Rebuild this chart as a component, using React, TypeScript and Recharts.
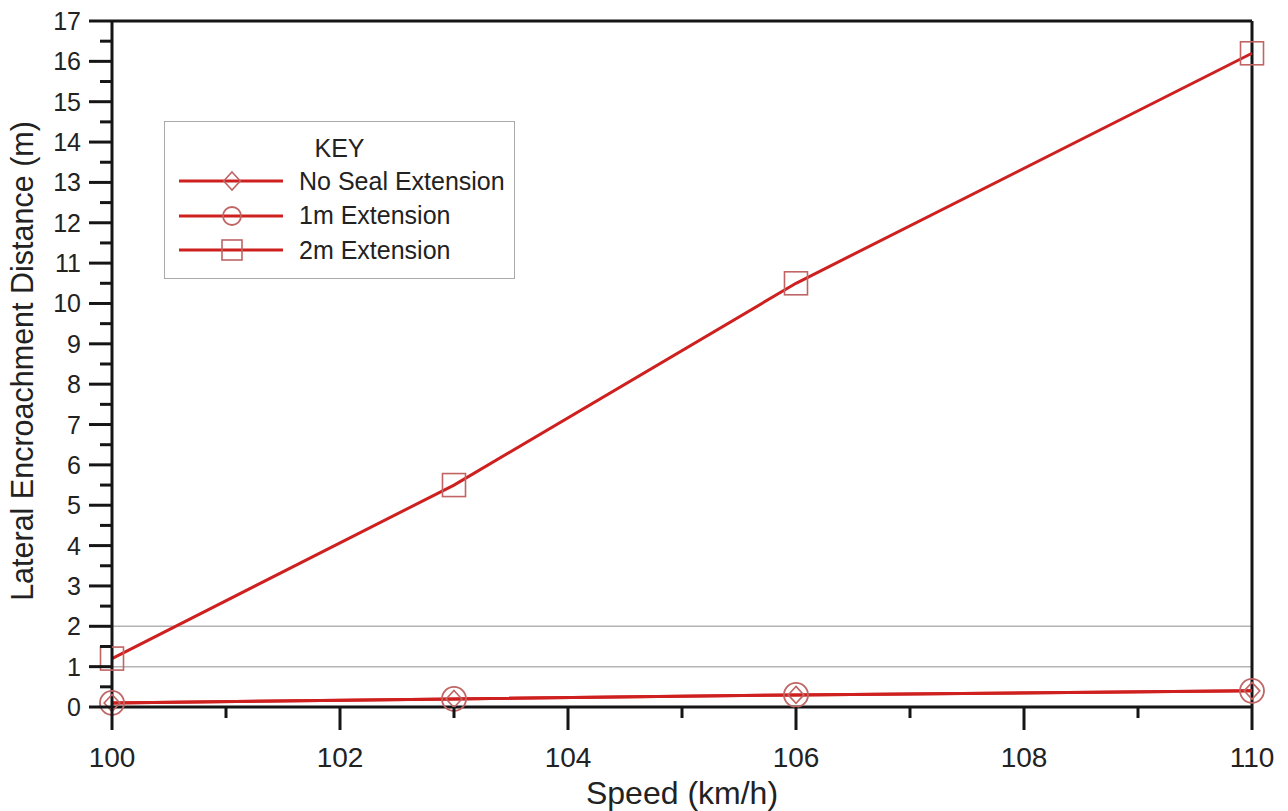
import {
  Legend,
  Line,
  LineChart,
  ReferenceLine,
  XAxis,
  YAxis,
} from "recharts";

const speeds = [100, 103, 106, 110];
const noSeal = [0.1, 0.2, 0.3, 0.4];
const ext1m = [0.1, 0.2, 0.3, 0.4];
const ext2m = [1.2, 5.5, 10.5, 16.2];

const xTicks = [100, 101, 102, 103, 104, 105, 106, 107, 108, 109, 110];
const xLabelled = [100, 102, 104, 106, 108, 110];
const yMajor = [0, 1, 2, 3, 4, 5, 6, 7, 8, 9, 10, 11, 12, 13, 14, 15, 16, 17];
const yTicks = [...yMajor, ...yMajor.slice(0, -1).map((v) => v + 0.5)].sort((a, b) => a - b);
const guideLines = [1, 2];

const seriesNames = ["No Seal Extension", "1m Extension", "2m Extension"];

const data = speeds.map((s, i) => ({
  speed: s,
  noSeal: noSeal[i],
  ext1m: ext1m[i],
  ext2m: ext2m[i],
}));

const FONT = '"Liberation Sans", Arial, sans-serif';
const LINE = "#cf2020";
const MARK = "#c06464";
const AXIS = "#151515";

// s = nominal marker size in px
const markerShape = (kind: string, cx: number, cy: number, s: number, key?: string) => {
  if (kind === "diamond") {
    const h = s / 2;
    const w = h * 0.92;
    return (
      <path key={key} d={`M${cx},${cy - h} L${cx + w},${cy} L${cx},${cy + h} L${cx - w},${cy} Z`}
        fill="none" stroke={MARK} strokeWidth={1.6} />
    );
  }
  if (kind === "circle") {
    return <circle key={key} cx={cx} cy={cy} r={s / 2} fill="none" stroke={MARK} strokeWidth={1.8} />;
  }
  return (
    <rect key={key} x={cx - s / 2} y={cy - s / 2} width={s} height={s} fill="none" stroke={MARK} strokeWidth={1.6} />
  );
};

const plotSize: Record<string, number> = { diamond: 17, circle: 24, square: 23 };
const keySize: Record<string, number> = { diamond: 18, circle: 18, square: 20 };

const dotFor = (kind: string) => (p: any) =>
  markerShape(kind, p.cx, p.cy, plotSize[kind], `${kind}-${p.index}`);

const XTick = (props: any) => {
  const { x, y, payload } = props;
  const major = xLabelled.includes(payload.value);
  return (
    <g>
      <line x1={x} y1={y} x2={x} y2={y + (major ? 23 : 11)} stroke={AXIS} strokeWidth={3} />
      {major && (
        <text x={x} y={y + 60} textAnchor="middle" fontSize={28} fontFamily={FONT} fill="#222">
          {payload.value}
        </text>
      )}
    </g>
  );
};

const YTick = (props: any) => {
  const { x, y, payload } = props;
  const major = Number.isInteger(payload.value);
  return (
    <g>
      <line x1={x} y1={y} x2={x - (major ? 23 : 12)} y2={y} stroke={AXIS} strokeWidth={3} />
      {major && (
        <text x={x - 31} y={y + 9} textAnchor="end" fontSize={25} fontFamily={FONT} fill="#222">
          {payload.value}
        </text>
      )}
    </g>
  );
};

const KeyBox = () => (
  <div
    style={{
      width: 351,
      height: 158,
      border: "1.5px solid #aaa",
      background: "#fff",
      fontFamily: FONT,
      color: "#222",
      boxSizing: "border-box",
    }}
  >
    <div style={{ fontSize: 25, textAlign: "center", marginTop: 12, height: 30 }}>KEY</div>
    {["diamond", "circle", "square"].map((kind, i) => (
      <div key={kind} style={{ display: "flex", alignItems: "center", height: 34.5 }}>
        <svg width={134} height={30}>
          <line x1={14} y1={15} x2={118} y2={15} stroke={LINE} strokeWidth={3} />
          {markerShape(kind, 67, 15, keySize[kind])}
        </svg>
        <span style={{ fontSize: 25 }}>{seriesNames[i]}</span>
      </div>
    ))}
  </div>
);

export default function App() {
  return (
    <div style={{ position: "absolute", left: 0, top: 0, width: 1288, height: 811, background: "#fff" }}>
      <LineChart width={1288} height={811} data={data} margin={{ top: 21, right: 36, left: 0, bottom: 0 }}>
        {guideLines.map((g) => (
          <ReferenceLine key={g} y={g} stroke="#b4b4b4" strokeWidth={1.5} />
        ))}
        <ReferenceLine y={17} stroke={AXIS} strokeWidth={3} />
        <ReferenceLine x={110} stroke={AXIS} strokeWidth={3} />
        <XAxis
          dataKey="speed"
          type="number"
          domain={[100, 110]}
          ticks={xTicks}
          interval={0}
          height={104}
          tickSize={0}
          tickMargin={0}
          tickLine={false}
          axisLine={{ stroke: AXIS, strokeWidth: 3 }}
          tick={<XTick />}
          label={{
            content: (p: any) => (
              <text
                x={p.viewBox.x + p.viewBox.width / 2}
                y={p.viewBox.y + 97}
                textAnchor="middle"
                fontSize={32}
                fontFamily={FONT}
                fill="#222"
              >
                Speed (km/h)
              </text>
            ),
          }}
        />
        <YAxis
          type="number"
          domain={[0, 17]}
          ticks={yTicks}
          interval={0}
          width={112}
          tickSize={0}
          tickMargin={0}
          tickLine={false}
          axisLine={{ stroke: AXIS, strokeWidth: 3 }}
          tick={<YTick />}
          label={{
            content: (p: any) => {
              const cx = p.viewBox.x + 22;
              const cy = p.viewBox.y + 340;
              return (
                <text
                  x={cx}
                  y={cy}
                  transform={`rotate(-90 ${cx} ${cy})`}
                  textAnchor="middle"
                  dominantBaseline="central"
                  fontSize={30.5}
                  fontFamily={FONT}
                  fill="#222"
                >
                  Lateral Encroachment Distance (m)
                </text>
              );
            },
          }}
        />
        <Legend
          layout="horizontal"
          verticalAlign="middle"
          align="center"
          content={<KeyBox />}
          wrapperStyle={{ left: 164, top: 121, width: 351, height: 158 }}
        />
        <Line dataKey="noSeal" name={seriesNames[0]} stroke={LINE} strokeWidth={3} dot={dotFor("diamond")} isAnimationActive={false} />
        <Line dataKey="ext1m" name={seriesNames[1]} stroke={LINE} strokeWidth={3} dot={dotFor("circle")} isAnimationActive={false} />
        <Line dataKey="ext2m" name={seriesNames[2]} stroke={LINE} strokeWidth={3} dot={dotFor("square")} isAnimationActive={false} />
      </LineChart>
    </div>
  );
}
